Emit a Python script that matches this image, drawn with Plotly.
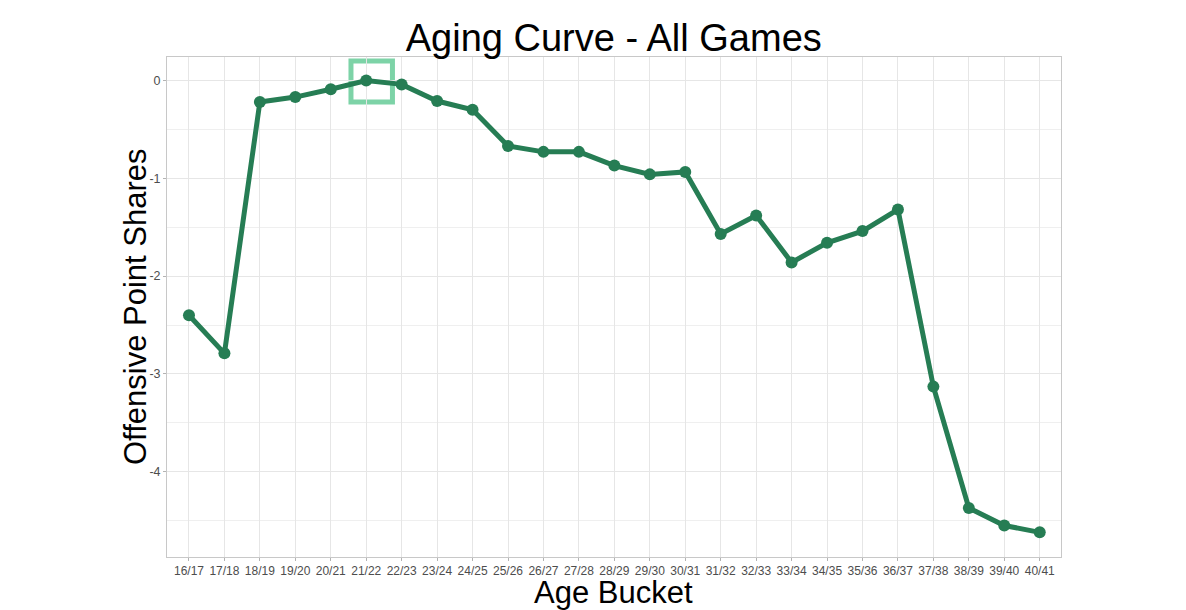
import plotly.graph_objects as go

age_buckets = ["16/17", "17/18", "18/19", "19/20", "20/21", "21/22", "22/23", "23/24",
               "24/25", "25/26", "26/27", "27/28", "28/29", "29/30", "30/31", "31/32",
               "32/33", "33/34", "34/35", "35/36", "36/37", "37/38", "38/39", "39/40", "40/41"]
ops = [-2.40, -2.79, -0.22, -0.17, -0.09, 0.0, -0.04, -0.21, -0.30, -0.67, -0.73, -0.73,
       -0.87, -0.96, -0.935, -1.57, -1.38, -1.86, -1.66, -1.54, -1.32, -3.13, -4.37, -4.55, -4.62]
y_ticks = [0, -1, -2, -3, -4]
highlight_bucket = "21/22"

line_color = "#267D54"
box_color = "#7DD3A7"

W, H = 1186, 610
ML, MR, MT, MB = 167, 125, 57, 53
PW, PH = W - ML - MR, H - MT - MB

fig = go.Figure()
fig.add_trace(go.Scatter(
    x=age_buckets, y=ops, mode="lines+markers",
    line=dict(color=line_color, width=5),
    marker=dict(color=line_color, size=12),
    hoverinfo="x+y", showlegend=False,
))

hi = age_buckets.index(highlight_bucket)
fig.add_shape(type="rect", xref="x", yref="y",
              x0=hi - 0.43, x1=hi + 0.74, y0=-0.22, y1=0.20,
              line=dict(color=box_color, width=5), fillcolor="rgba(0,0,0,0)",
              layer="below")

# axis titles as annotations for exact placement
fig.add_annotation(text="Offensive Point Shares", xref="paper", yref="paper",
                   x=(135 - ML) / PW, y=0.5, xanchor="center", yanchor="middle",
                   textangle=-90, showarrow=False,
                   font=dict(family="Liberation Sans, Arial", size=31, color="black"))
fig.add_annotation(text="Age Bucket", xref="paper", yref="paper",
                   x=(613.5 - ML) / PW, y=(H - MB - 592) / PH, xanchor="center", yanchor="middle",
                   showarrow=False,
                   font=dict(family="Liberation Sans, Arial", size=31, color="black"))

fig.update_layout(
    width=W, height=H,
    paper_bgcolor="white", plot_bgcolor="white",
    margin=dict(l=ML, r=MR, t=MT, b=MB, autoexpand=False),
    title=dict(text="Aging Curve - All Games", x=0.5175, xanchor="center",
               xref="container", yref="container",
               y=1 - 38 / H, yanchor="middle", automargin=False,
               font=dict(family="Liberation Sans, Arial", size=38, color="black")),
    font=dict(family="Liberation Sans, Arial"),
    xaxis=dict(
        type="category", categoryorder="array", categoryarray=age_buckets,
        range=[-0.62, len(age_buckets) - 1 + 0.6], automargin=False,
        showgrid=True, gridcolor="#e6e6e6", gridwidth=1,
        showline=True, linecolor="#c8c8c8", linewidth=1, mirror=True,
        ticks="outside", ticklen=3, tickcolor="#b3b3b3",
        tickfont=dict(size=12, color="#4d4d4d"), tickangle=0,
        zeroline=False, fixedrange=True,
    ),
    yaxis=dict(
        range=[-4.872, 0.24], automargin=False,
        tickvals=y_ticks, ticktext=[str(v) for v in y_ticks],
        showgrid=True, gridcolor="#e6e6e6", gridwidth=1,
        minor=dict(dtick=0.5, tick0=0, showgrid=True, gridcolor="#efefef", gridwidth=1, ticks=""),
        showline=True, linecolor="#c8c8c8", linewidth=1, mirror=True,
        ticks="outside", ticklen=3, tickcolor="#b3b3b3",
        tickfont=dict(size=12.5, color="#4d4d4d"),
        zeroline=False, fixedrange=True,
    ),
)

fig.write_html("out.html", config={"displayModeBar": False},
               post_script="document.body.style.margin='0';document.body.style.overflow='hidden';")
